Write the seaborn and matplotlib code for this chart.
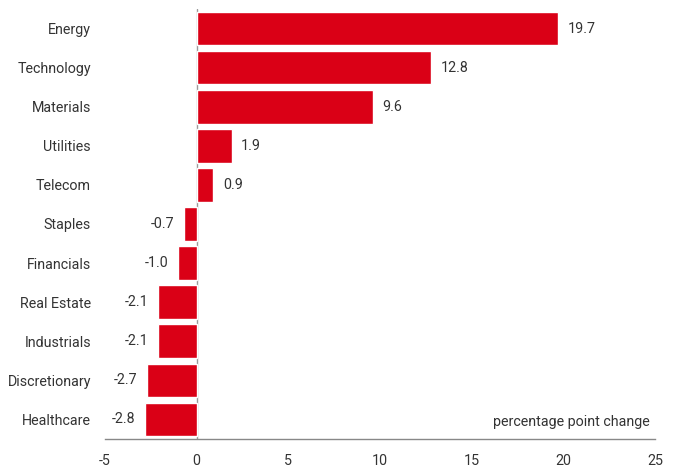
import matplotlib
matplotlib.use("Agg")
import matplotlib.pyplot as plt
import seaborn as sns
import pandas as pd

sectors = ["Energy", "Technology", "Materials", "Utilities", "Telecom", "Staples",
           "Financials", "Real Estate", "Industrials", "Discretionary", "Healthcare"]
changes = [19.7, 12.8, 9.6, 1.9, 0.9, -0.7, -1.0, -2.1, -2.1, -2.7, -2.8]
x_ticks = [-5, 0, 5, 10, 15, 20, 25]
unit_label = "percentage point change"

df = pd.DataFrame({"sector": sectors, "change": changes})

sns.set_style("white")
plt.rcParams["font.family"] = ["Roboto", "DejaVu Sans"]

fig = plt.figure(figsize=(6.77, 4.75), dpi=100)
ax = fig.add_axes([105/677, 1-439/475, 550/677, 430/475])

red = "#DA0016"
txt = "#333333"
sns.barplot(data=df, x="change", y="sector", orient="h", color=red,
            saturation=1, width=0.86, ax=ax)

fs = 10.3
for i, v in enumerate(changes):
    if v >= 0:
        ax.annotate(f"{v:.1f}", (v, i), xytext=(7, 0), textcoords="offset points",
                    ha="left", va="center", fontsize=fs, color=txt)
    else:
        ax.annotate(f"{v:.1f}", (v, i), xytext=(-7, 0), textcoords="offset points",
                    ha="right", va="center", fontsize=fs, color=txt)

ax.set_xlim(-5, 25)
ax.set_ylim(len(sectors) - 0.5, -0.5)
ax.set_xticks(x_ticks)
ax.set_xticklabels([str(t) for t in x_ticks])
ax.set_yticks(range(len(sectors)))
ax.set_yticklabels(sectors)
ax.axvline(0, color="#999999", lw=1, zorder=0)
ax.set_xlabel("")
ax.set_ylabel("")
for s in ["top", "right", "left"]:
    ax.spines[s].set_visible(False)
ax.spines["bottom"].set_color("#888888")
ax.spines["bottom"].set_linewidth(1)
ax.tick_params(axis="both", length=0, labelsize=fs, colors=txt)
ax.tick_params(axis="x", pad=11)
ax.tick_params(axis="y", pad=10)
ax.text(0.991, 0.04, unit_label, transform=ax.transAxes, ha="right", va="center",
        fontsize=fs, color=txt)

fig.savefig("out.png", dpi=100)
